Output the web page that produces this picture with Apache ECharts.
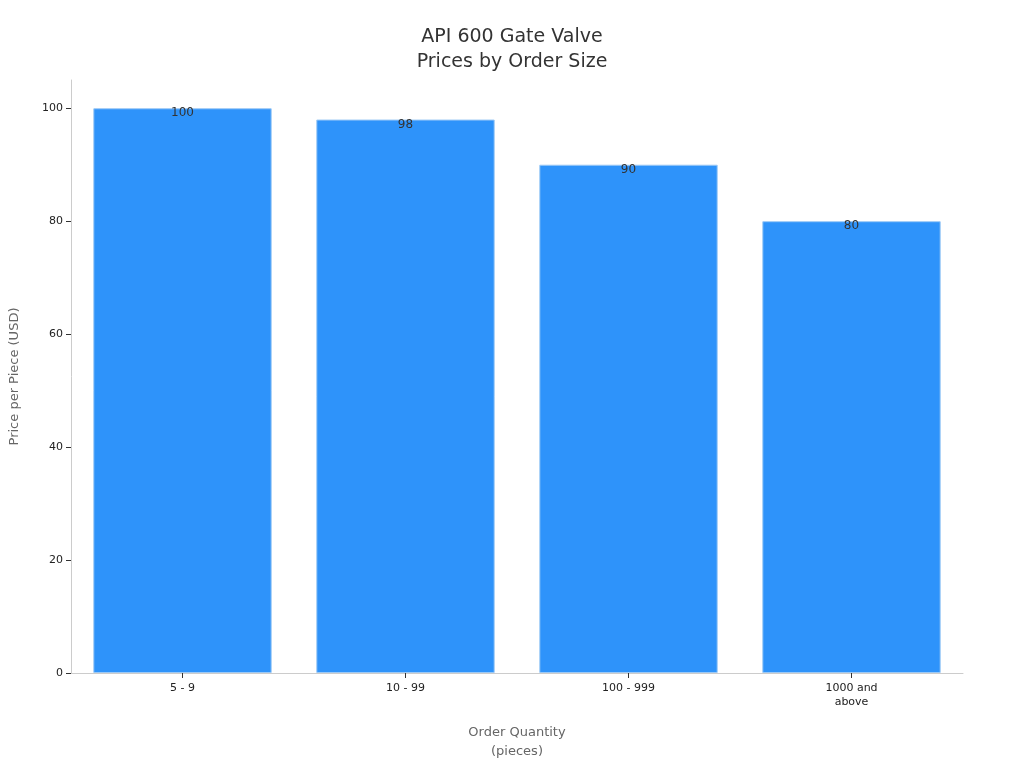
<!DOCTYPE html>
<html><head><meta charset="utf-8">
<script src="https://cdn.jsdelivr.net/npm/echarts@6/dist/echarts.min.js"></script>
<style>html,body{margin:0;padding:0;background:#fff}#c{width:1024px;height:768px}</style>
</head><body><div id="c"></div>
<script>
const categories = ['5 - 9', '10 - 99', '100 - 999', '1000 and\nabove'];
const prices = [100, 98, 90, 80];
const yTicks = [0, 20, 40, 60, 80, 100];
const chart = echarts.init(document.getElementById('c'));
chart.setOption({
  textStyle: { fontFamily: 'DejaVu Sans' },
  title: { text: 'API 600 Gate Valve\nPrices by Order Size', left: 'center', top: 20,
    textStyle: { fontSize: 19, fontWeight: 'normal', color: '#333', lineHeight: 25, fontFamily: 'DejaVu Sans' } },
  grid: { left: 68, right: 61, top: 80, bottom: 95 },
  xAxis: { type: 'category', data: categories,
    name: 'Order Quantity\n(pieces)', nameLocation: 'middle', nameGap: 50,
    nameTextStyle: { fontSize: 13, color: '#666', lineHeight: 19 },
    axisLine: { lineStyle: { color: '#ccc' } }, axisTick: { show: true, alignWithLabel: true, lineStyle: { color: '#333' } },
    axisLabel: { color: '#222', fontSize: 11, lineHeight: 14 } },
  yAxis: { type: 'value', min: 0, max: 105, interval: 20,
    name: 'Price per Piece (USD)', nameLocation: 'middle', nameGap: 50,
    nameTextStyle: { fontSize: 13, color: '#666' },
    splitLine: { show: false },
    axisLine: { show: true, lineStyle: { color: '#ccc' } },
    axisTick: { show: true, lineStyle: { color: '#333' } },
    axisLabel: { color: '#222', fontSize: 11, showMaxLabel: false,
      formatter: v => yTicks.includes(v) ? String(v) : '' } },
  series: [{ type: 'bar', data: prices, barCategoryGap: '20%',
    itemStyle: { color: '#2E93FA', borderColor: '#9cc9f5', borderWidth: 1 },
    label: { show: true, position: 'insideTop', offset: [0, -6], color: '#333', fontSize: 12 } }]
});
</script></body></html>
